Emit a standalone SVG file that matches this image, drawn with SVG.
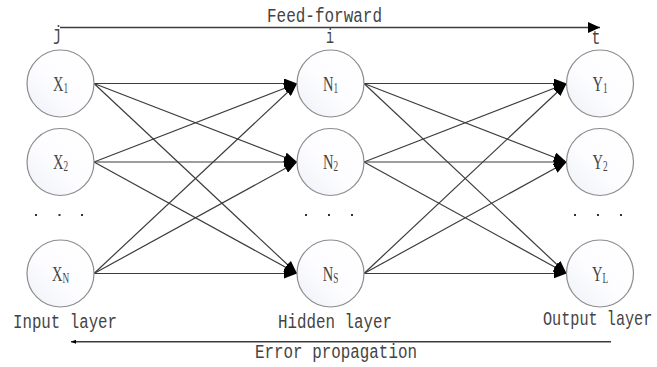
<svg xmlns="http://www.w3.org/2000/svg" width="657" height="367" viewBox="0 0 657 367">
  <style>
    .node circle { fill: url(#nodeFill); stroke: #8c8c8c; stroke-width: 1.2; }
    .node text { font-family: "Liberation Serif", "Times New Roman", serif; font-size: 22px; fill: #444; text-anchor: middle; }
    .node tspan { font-size: 14px; }
    .edges line { stroke: #3c3c3c; stroke-width: 1.2; marker-end: url(#arrow); }
    .label { font-family: "Liberation Mono", "Courier New", monospace; font-size: 20px; fill: #444; }
    .label.tall { font-size: 15.2px; }
    .flow { stroke: #3c3c3c; stroke-width: 1.4; }
    .dot { fill: #333; }
  </style>
  <defs>
    <linearGradient id="nodeFill" x1="1" y1="0" x2="0" y2="1">
      <stop offset="0" stop-color="#ffffff"/>
      <stop offset="0.55" stop-color="#fdfdff"/>
      <stop offset="1" stop-color="#edf0f7"/>
    </linearGradient>
    <marker id="arrow" viewBox="0 0 13 10" refX="13" refY="5" markerWidth="13" markerHeight="10" markerUnits="userSpaceOnUse" orient="auto">
      <path d="M0,0 L13,5 L0,10 z" fill="#000"/>
    </marker>
    <marker id="arrowTop" viewBox="0 0 12 11" refX="12" refY="5.5" markerWidth="12" markerHeight="11" markerUnits="userSpaceOnUse" orient="auto">
      <path d="M0,0 L12,5.5 L0,11 z" fill="#000"/>
    </marker>
    <marker id="arrowSmall" viewBox="0 0 5 4" refX="5" refY="2" markerWidth="5" markerHeight="4" markerUnits="userSpaceOnUse" orient="auto">
      <path d="M0,0 L5,2 L0,4 z" fill="#000"/>
    </marker>
  </defs>

  <!-- direction arrows and captions -->
  <line class="flow" x1="60" y1="27.5" x2="600" y2="27.5" marker-end="url(#arrowTop)"/>
  <text class="label" x="267" y="21.7" textLength="115" lengthAdjust="spacingAndGlyphs">Feed-forward</text>
  <line class="flow" x1="611" y1="341.7" x2="71" y2="341.7" marker-end="url(#arrowSmall)"/>
  <text class="label" x="255" y="358.3" textLength="162" lengthAdjust="spacingAndGlyphs">Error propagation</text>

  <text class="label" x="53" y="39.5" textLength="9" lengthAdjust="spacingAndGlyphs">j</text>
  <text class="label" x="326" y="43" textLength="8" lengthAdjust="spacingAndGlyphs">i</text>
  <text class="label" x="591.5" y="43.5" textLength="9" lengthAdjust="spacingAndGlyphs">t</text>

  <text class="label" x="13" y="328" textLength="104" lengthAdjust="spacingAndGlyphs">Input layer</text>
  <text class="label" x="278" y="328.3" textLength="114" lengthAdjust="spacingAndGlyphs">Hidden layer</text>
  <!-- narrower glyphs stretched vertically so the caption fits the right margin -->
  <text class="label tall" transform="translate(543,325) scale(1,1.3)">Output layer</text>

  <!-- connectors -->
  <g id="connectors" class="edges">
    <!-- input to hidden -->
    <line x1="94" y1="83.5" x2="297" y2="83.5"/>
    <line x1="94" y1="83.5" x2="297" y2="162"/>
    <line x1="94" y1="83.5" x2="297" y2="273.5"/>
    <line x1="94" y1="162" x2="297" y2="83.5"/>
    <line x1="94" y1="162" x2="297" y2="162"/>
    <line x1="94" y1="162" x2="297" y2="273.5"/>
    <line x1="94" y1="273.5" x2="297" y2="83.5"/>
    <line x1="94" y1="273.5" x2="297" y2="162"/>
    <line x1="94" y1="273.5" x2="297" y2="273.5"/>
    <!-- hidden to output -->
    <line x1="364" y1="83.5" x2="566.5" y2="83.5"/>
    <line x1="364" y1="83.5" x2="566.5" y2="162"/>
    <line x1="364" y1="83.5" x2="566.5" y2="273.5"/>
    <line x1="364" y1="162" x2="566.5" y2="83.5"/>
    <line x1="364" y1="162" x2="566.5" y2="162"/>
    <line x1="364" y1="162" x2="566.5" y2="273.5"/>
    <line x1="364" y1="273.5" x2="566.5" y2="83.5"/>
    <line x1="364" y1="273.5" x2="566.5" y2="162"/>
    <line x1="364" y1="273.5" x2="566.5" y2="273.5"/>
  </g>

  <!-- input layer -->
  <g id="x1" class="node">
    <circle cx="60.5" cy="83.5" r="33.5"/>
    <text transform="translate(60.5,90.8) scale(0.66,1)">X<tspan dy="1.8">1</tspan></text>
  </g>
  <g id="x2" class="node">
    <circle cx="60.5" cy="162" r="33.5"/>
    <text transform="translate(60.5,169.3) scale(0.66,1)">X<tspan dy="1.8">2</tspan></text>
  </g>
  <g id="xn" class="node">
    <circle cx="60.5" cy="273.5" r="33.5"/>
    <text transform="translate(60.5,280.8) scale(0.66,1)">X<tspan dy="1.8">N</tspan></text>
  </g>

  <!-- hidden layer -->
  <g id="n1" class="node">
    <circle cx="330.5" cy="83.5" r="33.5"/>
    <text transform="translate(330.5,90.8) scale(0.66,1)">N<tspan dy="1.8">1</tspan></text>
  </g>
  <g id="n2" class="node">
    <circle cx="330.5" cy="162" r="33.5"/>
    <text transform="translate(330.5,169.3) scale(0.66,1)">N<tspan dy="1.8">2</tspan></text>
  </g>
  <g id="ns" class="node">
    <circle cx="330.5" cy="273.5" r="33.5"/>
    <text transform="translate(330.5,280.8) scale(0.66,1)">N<tspan dy="1.8">S</tspan></text>
  </g>

  <!-- output layer -->
  <g id="y1" class="node">
    <circle cx="600" cy="83.5" r="33.5"/>
    <text transform="translate(600,90.8) scale(0.66,1)">Y<tspan dy="1.8">1</tspan></text>
  </g>
  <g id="y2" class="node">
    <circle cx="600" cy="162" r="33.5"/>
    <text transform="translate(600,169.3) scale(0.66,1)">Y<tspan dy="1.8">2</tspan></text>
  </g>
  <g id="yl" class="node">
    <circle cx="600" cy="273.5" r="33.5"/>
    <text transform="translate(600,280.8) scale(0.66,1)">Y<tspan dy="1.8">L</tspan></text>
  </g>

  <!-- ellipsis dots between rows -->
  <g id="ellipses" class="dot">
    <rect x="35" y="214" width="2" height="2"/>
    <rect x="58.5" y="214" width="2" height="2"/>
    <rect x="81" y="214" width="2" height="2"/>
    <rect x="305" y="214" width="2" height="2"/>
    <rect x="328" y="214" width="2" height="2"/>
    <rect x="351" y="214" width="2" height="2"/>
    <rect x="574" y="214" width="2" height="2"/>
    <rect x="597" y="214" width="2" height="2"/>
    <rect x="620" y="214" width="2" height="2"/>
  </g>
</svg>
